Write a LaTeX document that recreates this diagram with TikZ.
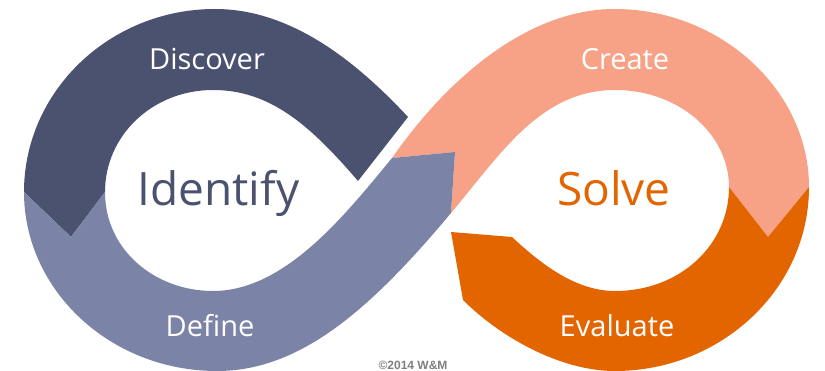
\documentclass[tikz,border=0pt]{standalone}
\usepackage{fontspec}
\setmainfont{Open Sans}
\newfontfamily\copyfont[Scale=1]{Liberation Sans}
\definecolor{darkblue}{HTML}{4B526F}
\definecolor{lightblue}{HTML}{7B84A6}
\definecolor{salmon}{HTML}{F7A287}
\definecolor{burnt}{HTML}{E36500}
\definecolor{copygray}{HTML}{7F7F7F}
\tikzset{
  stagelabel/.style={text=white,font=\fontsize{29}{32}\selectfont,anchor=base,inner sep=0pt},
  biglabel/.style={font=\fontsize{46}{50}\selectfont,anchor=base,inner sep=0pt},
}
\begin{document}
\begin{tikzpicture}[x=1pt,y=-1pt]
\path[use as bounding box,fill=white] (0,0) rectangle (825,371);
% Create
\fill[salmon] (392,158) .. controls (450,75) and (530,9) .. (615,9)
  .. controls (720,9) and (809,90) .. (809,187)
  -- (768,237) -- (729,187)
  .. controls (729,135) and (680,90) .. (615,90)
  .. controls (540,90) and (500,155) .. (451,213)
  -- (455,152) -- cycle;
% Evaluate
\fill[burnt] (451,232) -- (512,237)
  .. controls (540,263) and (575,291) .. (615,291)
  .. controls (680,291) and (729,245) .. (729,187)
  -- (768,237) -- (809,187)
  .. controls (809,290) and (720,371) .. (615,371)
  .. controls (560,371) and (500,337) .. (463,300) -- cycle;
% Discover
\fill[darkblue] (24,192) .. controls (24,91) and (110,9) .. (215,9)
  .. controls (290,9) and (355,60) .. (408,117)
  -- (358,181)
  .. controls (310,125) and (270,90) .. (213,90)
  .. controls (153,90) and (105,135) .. (105,192)
  -- (71,237) -- cycle;
% Define
\fill[lightblue] (24,192) -- (71,237) -- (105,192)
  .. controls (105,250) and (155,291) .. (213,291)
  .. controls (285,291) and (345,215) .. (392,158)
  -- (455,152) -- (451,213)
  .. controls (370,310) and (300,371) .. (217,371)
  .. controls (110,371) and (24,290) .. (24,192) -- cycle;
\node[stagelabel] (discover) at (207,70) {Discover};
\node[stagelabel] (define) at (210,337) {Define};
\node[stagelabel] (create) at (625,70) {Create};
\node[stagelabel] (evaluate) at (617,337) {Evaluate};
\node[biglabel,text=darkblue] (identify) at (218.5,206) {Identify};
\node[biglabel,text=burnt] (solve) at (614,206) {Solve};
\node[anchor=base,inner sep=0pt,text=copygray,font=\copyfont\bfseries\fontsize{12}{14}\selectfont] (copy) at (413,370) {©2014 W\&M};
\end{tikzpicture}
\end{document}
